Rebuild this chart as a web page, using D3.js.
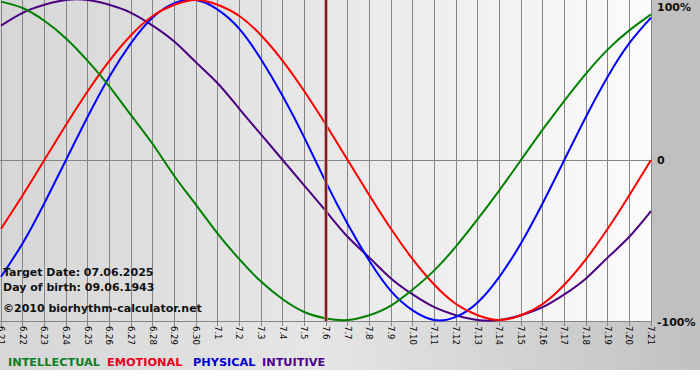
<!DOCTYPE html>
<html>
<head>
<meta charset="utf-8">
<script src="https://cdn.jsdelivr.net/npm/d3@7"></script>
<style>
body { margin: 0; background: #fff; }
svg { display: block; font-family: "DejaVu Sans", Verdana, sans-serif; }
</style>
</head>
<body>
<div id="chart"></div>
<script>
// days shown on the x axis (month.day)
var days = ["6.21", "6.22", "6.23", "6.24", "6.25", "6.26", "6.27", "6.28", "6.29", "6.30",
  "7.1", "7.2", "7.3", "7.4", "7.5", "7.6", "7.7", "7.8", "7.9", "7.10",
  "7.11", "7.12", "7.13", "7.14", "7.15", "7.16", "7.17", "7.18", "7.19", "7.20", "7.21"]

// daily values, -1 .. 1
var intellectual = [0.99, 0.95, 0.87, 0.76, 0.62, 0.46, 0.28, 0.10, -0.10, -0.28, -0.46, -0.62, -0.76, -0.87, -0.95, -0.99,
  -1.00, -0.97, -0.91, -0.81, -0.69, -0.54, -0.37, -0.19, 0, 0.19, 0.37, 0.54, 0.69, 0.81, 0.91]
var emotional = [-0.43, -0.22, 0, 0.22, 0.43, 0.62, 0.78, 0.90, 0.97, 1.00, 0.97, 0.90, 0.78, 0.62, 0.43, 0.22,
  0, -0.22, -0.43, -0.62, -0.78, -0.90, -0.97, -1.00, -0.97, -0.90, -0.78, -0.62, -0.43, -0.22, 0]
var physical = [-0.73, -0.52, -0.27, 0, 0.27, 0.52, 0.73, 0.89, 0.98, 1.00, 0.94, 0.82, 0.63, 0.40, 0.14, -0.14,
  -0.40, -0.63, -0.82, -0.94, -1.00, -0.98, -0.89, -0.73, -0.52, -0.27, 0, 0.27, 0.52, 0.73, 0.89]
var intuitive = [0.84, 0.92, 0.97, 1.00, 1.00, 0.97, 0.92, 0.84, 0.74, 0.61, 0.48, 0.32, 0.16, 0, -0.16, -0.32,
  -0.48, -0.61, -0.74, -0.84, -0.92, -0.97, -1.00, -1.00, -0.97, -0.92, -0.84, -0.74, -0.61, -0.48, -0.32]

var seriesNames = ["INTELLECTUAL", "EMOTIONAL", "PHYSICAL", "INTUITIVE"]
var yTickValues = [1, 0, -1]
var yTickLabels = ["100%", "0", "-100%"]
var targetDay = "7.6"
var infoLines = ["Target Date: 07.06.2025", "Day of birth: 09.06.1943", "\u00a92010 biorhythm-calculator.net"]

var width = 700,
height = 380,
plotRight = 651,
plotBottom = 321

var lineColor = d3.scaleOrdinal()
.domain(seriesNames)
.range(["#008000", "#ff0000", "#0000ff", "#4b0082"])
var legendColor = d3.scaleOrdinal()
.domain(seriesNames)
.range(["#0a7f25", "#e8001c", "#0000cc", "#4b0090"])

var svg = d3.select("#chart").append("svg")
.attr("width", width)
.attr("height", height)

var defs = svg.append("defs")
var bgGrad = defs.append("linearGradient").attr("id", "bgGrad")
bgGrad.append("stop").attr("offset", "0%").attr("stop-color", "#d6d6d6")
bgGrad.append("stop").attr("offset", "45%").attr("stop-color", "#e6e6e6")
bgGrad.append("stop").attr("offset", "90%").attr("stop-color", "#c8c8c8")
bgGrad.append("stop").attr("offset", "100%").attr("stop-color", "#c0c0c0")
var plotGrad = defs.append("linearGradient").attr("id", "plotGrad")
plotGrad.append("stop").attr("offset", "0%").attr("stop-color", "#d6d6d6")
plotGrad.append("stop").attr("offset", "50%").attr("stop-color", "#e8e8e8")
plotGrad.append("stop").attr("offset", "100%").attr("stop-color", "#fbfbfb")

svg.append("rect")
.attr("width", width)
.attr("height", 370)
.attr("fill", "url(#bgGrad)")

svg.append("rect")
.attr("x", plotRight)
.attr("width", width - plotRight)
.attr("height", plotBottom)
.attr("fill", "#c0c0c0")

svg.append("rect")
.attr("width", plotRight)
.attr("height", plotBottom)
.attr("fill", "url(#plotGrad)")

var x = d3.scalePoint()
.domain(days)
.range([1, plotRight])

var y = d3.scaleLinear()
.domain([-1, 1])
.range([320, 0])

// vertical grid + ticks
svg.append("g")
.selectAll("line")
.data(days)
.enter()
.append("line")
.attr("x1", function(d){ return x(d) })
.attr("x2", function(d){ return x(d) })
.attr("y1", 0)
.attr("y2", plotBottom + 5)
.attr("stroke", "#858585")
.attr("stroke-width", 1)
.attr("shape-rendering", "crispEdges")

svg.append("g")
.selectAll("line")
.data([0, -1])
.enter()
.append("line")
.attr("x1", 0)
.attr("x2", plotRight)
.attr("y1", function(d){ return d == 0 ? y(d) : plotBottom })
.attr("y2", function(d){ return d == 0 ? y(d) : plotBottom })
.attr("stroke", "#858585")
.attr("shape-rendering", "crispEdges")

// x labels, rotated
svg.append("g")
.selectAll("text")
.data(days)
.enter()
.append("text")
.attr("transform", function(d){ return "translate(" + x(d) + "," + (plotBottom + 5) + ") rotate(90)" })
.attr("dy", "0.35em")
.style("font-size", "8.5px")
.attr("fill", "#000")
.text(function(d){ return d })

// y labels on the right
svg.append("g")
.selectAll("text")
.data(yTickValues)
.enter()
.append("text")
.attr("x", 657)
.attr("y", function(d){ return Math.max(y(d), 7) + (d == -1 ? 2 : 0) })
.attr("dy", "0.35em")
.style("font-size", "11px")
.style("font-weight", "bold")
.attr("fill", "#111")
.text(function(d, i){ return yTickLabels[i] })

var line = d3.line()
.x(function(d, i){ return x(days[i]) })
.y(function(d){ return y(d) })
.curve(d3.curveNatural)

var seriesData = [intuitive, physical, emotional, intellectual]
var seriesOrder = ["INTUITIVE", "PHYSICAL", "EMOTIONAL", "INTELLECTUAL"]

svg.append("g")
.selectAll("path")
.data(seriesData)
.enter()
.append("path")
.attr("d", line)
.attr("fill", "none")
.attr("stroke", function(d, i){ return lineColor(seriesOrder[i]) })
.attr("stroke-width", 2)

// target day marker
svg.append("line")
.attr("x1", x(targetDay)).attr("x2", x(targetDay))
.attr("y1", 0).attr("y2", plotBottom)
.attr("stroke", "#c48a8a")
.attr("stroke-width", 3.5)
svg.append("line")
.attr("x1", x(targetDay)).attr("x2", x(targetDay))
.attr("y1", 0).attr("y2", plotBottom)
.attr("stroke", "#7a1212")
.attr("stroke-width", 1.8)

svg.append("g")
.selectAll("text")
.data(infoLines)
.enter()
.append("text")
.attr("x", 3)
.attr("y", function(d, i){ return [276, 291, 312][i] })
.style("font-size", "11px")
.style("font-weight", "bold")
.attr("fill", "#111")
.text(function(d){ return d })

var legendX = [8, 107, 193, 262]
svg.append("g")
.selectAll("text")
.data(seriesNames)
.enter()
.append("text")
.attr("x", function(d, i){ return legendX[i] })
.attr("y", 366)
.style("font-size", "11.3px")
.style("font-weight", "bold")
.attr("fill", function(d){ return legendColor(d) })
.text(function(d){ return d })
</script>
</body>
</html>
